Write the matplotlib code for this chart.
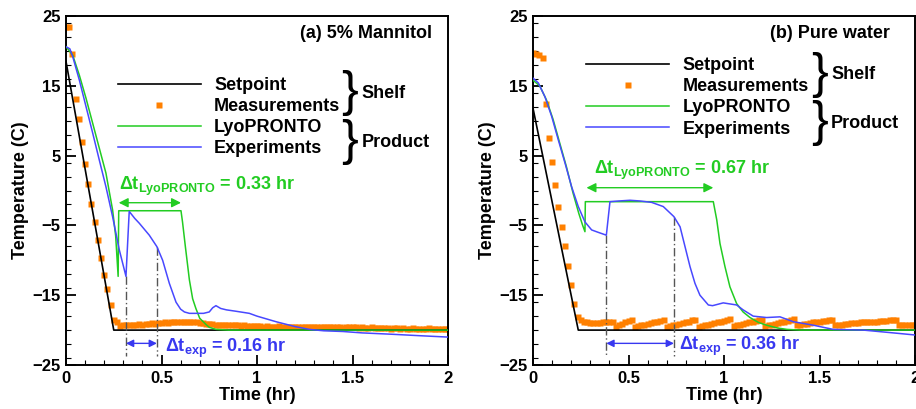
import matplotlib
matplotlib.use("Agg")
import matplotlib.pyplot as plt
from matplotlib.lines import Line2D
from matplotlib.ticker import MultipleLocator
import numpy as np

plt.rcParams['font.family'] = ['Liberation Sans', 'DejaVu Sans']
plt.rcParams['font.weight'] = 'bold'
plt.rcParams['mathtext.fontset'] = 'custom'
plt.rcParams['mathtext.rm'] = 'Liberation Sans:bold'
plt.rcParams['mathtext.it'] = 'Liberation Sans:bold'
plt.rcParams['mathtext.bf'] = 'Liberation Sans:bold'

ORANGE = '#ff8000'
GREEN = '#22cc22'
BLUE = '#4848ff'
TXT_BLUE = '#3838f0'

# shelf measurements are logged once a minute
meas_time = np.arange(121) / 60.0

# ---- (a) 5% Mannitol ----
a_set_t = [0.0, 0.25, 2.0]
a_set_T = [18.5, -20.0, -20.0]

a_meas = [23.4, 23.4, 19.5, 13.1, 10.3, 7.0, 3.8, 0.9, -1.9, -4.5, -7.1, -9.6, -12.1, -14.1, -16.4,
          -18.5, -18.8,
          -19.4, -19.3, -19.3, -19.2, -19.2, -19.2, -19.1, -19.2,
          -19.1, -19.1, -19.0, -19.1, -19.0, -19.0, -18.9, -19.0, -18.9, -18.9, -18.8, -18.9,
          -18.8, -18.8, -18.8, -18.9, -18.9, -19.0, -19.0, -19.1, -19.1,
          -19.1, -19.2, -19.2, -19.2, -19.3, -19.2, -19.3, -19.3, -19.3, -19.4, -19.3, -19.4, -19.4, -19.4, -19.4,
          -19.4, -19.5, -19.4, -19.5, -19.5, -19.5, -19.4, -19.5, -19.5, -19.5,
          -19.5, -19.6, -19.5, -19.5, -19.6, -19.5, -19.6, -19.6, -19.5, -19.6,
          -19.6, -19.6, -19.6, -19.5, -19.6, -19.6, -19.7, -19.6, -19.6, -19.6,
          -19.6, -19.7, -19.6, -19.7, -19.7, -19.6, -19.7, -19.7, -19.7, -19.7,
          -19.7, -19.8, -19.7, -19.7, -19.8, -19.7, -19.8, -19.8, -19.7, -19.8,
          -19.8, -19.8, -19.8, -19.7, -19.8, -19.8, -19.9, -19.8, -19.8, -19.8]

a_lyo_t = [0.0, 0.035, 0.07, 0.105, 0.14, 0.175, 0.209, 0.244, 0.26, 0.273, 0.276, 0.602, 0.61,
           0.625, 0.646, 0.663, 0.68, 0.7, 0.733, 0.75, 0.785, 0.85, 2.0]
a_lyo_T = [20.6, 19.4, 16.5, 13.2, 9.6, 6.0, 2.5, -2.8, -6.5, -12.3, -2.9, -2.9, -4.5,
           -8.05, -12.8, -15.5, -16.9, -18.3, -19.2, -19.6, -19.9, -20.0, -20.0]

a_exp_t = [0.0, 0.02, 0.035, 0.07, 0.105, 0.14, 0.174, 0.209, 0.244, 0.279, 0.314, 0.331, 0.36,
           0.384, 0.436, 0.476, 0.506, 0.541, 0.576, 0.6, 0.62, 0.646, 0.72, 0.75, 0.768, 0.785,
           0.81, 0.84, 0.89, 0.96, 1.0, 1.1, 1.2, 1.274, 1.35, 1.45, 1.55, 1.71, 1.85, 2.0]
a_exp_T = [20.6, 20.3, 19.2, 15.8, 12.0, 8.2, 4.4, 0.55, -3.75, -8.5, -12.3, -3.0, -4.0,
           -4.7, -6.4, -8.05, -10.0, -13.3, -16.0, -17.0, -17.4, -17.6, -17.6, -17.4, -16.8, -16.5,
           -16.9, -17.1, -17.3, -17.6, -18.0, -18.8, -19.5, -19.9, -20.1, -20.2, -20.4, -20.6, -20.8, -21.0]

a_exp_marks = [(0.314, -12.3), (0.476, -8.05)]
a_lyo_span = (0.276, 0.602)

# ---- (b) Pure water ----
b_set_t = [0.0, 0.237, 2.0]
b_set_T = [11.8, -20.0, -20.0]

b_meas = [19.7, 19.5, 19.4, 19.0, 12.4, 7.5, 4.1, 0.8, -2.4, -5.2, -8.0, -10.8, -13.5, -16.2, -18.1,
          -18.6,
          -18.8, -18.9, -19.0, -19.0, -19.0, -19.0, -18.9, -18.9, -18.9, -18.8,
          -19.5,
          -19.3, -19.1, -18.9, -18.7, -18.5,
          -19.5,
          -19.4, -19.3, -19.2, -19.1, -19.0, -18.9, -18.8, -18.7, -18.5,
          -19.5,
          -19.4, -19.3, -19.2, -19.1, -19.0, -18.9, -18.8, -18.6, -18.5,
          -19.5,
          -19.4, -19.3, -19.2, -19.1, -19.0, -18.9, -18.8, -18.7, -18.6, -18.4,
          -19.4,
          -19.3, -19.2, -19.1, -19.0, -18.9, -18.8, -18.7, -18.6, -18.5,
          -19.4,
          -19.3, -19.2, -19.1, -19.0, -18.9, -18.8, -18.7, -18.6, -18.4,
          -19.3,
          -19.2, -19.1, -19.1, -19.0, -18.9, -18.9, -18.8, -18.7, -18.7, -18.6, -18.5,
          -19.3,
          -19.2, -19.2, -19.1, -19.1, -19.0, -19.0, -19.0, -18.9, -18.9, -18.9,
          -18.8, -18.8, -18.8, -18.7, -18.7, -18.7, -18.6, -18.6, -18.5,
          -19.3,
          -19.3, -19.3, -19.2, -19.2, -19.2]

b_lyo_t = [0.0, 0.035, 0.07, 0.105, 0.14, 0.175, 0.21, 0.24, 0.26, 0.272, 0.274, 0.944, 0.962,
           0.979, 1.005, 1.031, 1.066, 1.1, 1.136, 1.18, 1.223, 1.28, 1.33, 1.4, 2.0]
b_lyo_T = [15.8, 15.0, 13.0, 10.2, 6.8, 3.4, -0.4, -3.3, -5.0, -5.9, -1.6, -1.6, -4.2,
           -7.6, -10.9, -13.8, -16.2, -17.4, -18.2, -18.9, -19.3, -19.7, -19.9, -20.0, -20.0]

b_exp_t = [0.0, 0.028, 0.063, 0.098, 0.133, 0.168, 0.202, 0.237, 0.272, 0.307, 0.342, 0.384,
           0.403, 0.45, 0.508, 0.56, 0.621, 0.682, 0.738, 0.77, 0.796, 0.822, 0.848, 0.874, 0.918,
           0.94, 0.996, 1.066, 1.1, 1.153, 1.223, 1.293, 1.363, 1.468, 1.572, 1.73, 1.886, 2.0]
b_exp_T = [16.1, 15.4, 13.4, 10.6, 7.2, 3.9, 0.55, -2.3, -4.5, -5.65, -6.0, -6.4,
           -1.6, -1.5, -1.4, -1.5, -1.7, -2.3, -3.75, -5.2, -8.05, -10.9, -13.3, -15.0, -16.4,
           -16.5, -16.1, -16.4, -17.1, -18.0, -18.2, -18.1, -18.8, -19.3, -19.9, -20.0, -20.4, -20.7]

b_exp_marks = [(0.384, -6.4), (0.738, -3.75)]
b_lyo_span = (0.28, 0.944)


def draw_panel(ax, set_t, set_T, meas, lyo_t, lyo_T, exp_t, exp_T, exp_marks, lyo_span,
               lyo_arrow_y, lyo_text, lyo_text_pos, exp_text, exp_text_pos, title, title_pos,
               leg_pos, shelf_pos, prod_pos):
    ax.plot(set_t, set_T, color='black', lw=1.2, zorder=3)
    ax.plot(meas_time, meas, ls='none', marker='s', ms=4.6, color=ORANGE, mec='none', zorder=2)
    ax.plot(lyo_t, lyo_T, color=GREEN, lw=1.1, zorder=4)
    ax.plot(exp_t, exp_T, color=BLUE, lw=1.1, zorder=5)

    # dash-dot markers for the experimental interval
    for t, T in exp_marks:
        ax.plot([t, t], [T, -23.7], color='#555555', lw=1.0, dashes=(6, 2, 1, 2), zorder=3)

    ax.annotate('', xy=(exp_marks[1][0], -21.9), xytext=(exp_marks[0][0], -21.9),
                arrowprops=dict(arrowstyle='<|-|>', color=TXT_BLUE, lw=1.0, mutation_scale=11,
                                shrinkA=0, shrinkB=0))
    ax.annotate('', xy=(lyo_span[1], lyo_arrow_y), xytext=(lyo_span[0], lyo_arrow_y),
                arrowprops=dict(arrowstyle='<|-|>', color=GREEN, lw=1.0, mutation_scale=14,
                                shrinkA=0, shrinkB=0))

    ax.text(lyo_text_pos[0], lyo_text_pos[1], lyo_text, color=GREEN, fontsize=13,
            fontweight='bold', va='baseline', ha='left')
    ax.text(exp_text_pos[0], exp_text_pos[1], exp_text, color=TXT_BLUE, fontsize=13,
            fontweight='bold', va='baseline', ha='left')
    ax.text(title_pos[0], title_pos[1], title, transform=ax.transAxes, fontsize=13,
            fontweight='bold', ha='right', va='center')

    handles = [Line2D([], [], color='black', lw=1.2),
               Line2D([], [], ls='none', marker='s', ms=4.6, color=ORANGE, mec='none'),
               Line2D([], [], color=GREEN, lw=1.1),
               Line2D([], [], color=BLUE, lw=1.1)]
    labels = ['Setpoint', 'Measurements', 'LyoPRONTO', 'Experiments']
    ax.legend(handles, labels, loc='center left', bbox_to_anchor=leg_pos, frameon=False,
              prop={'size': 13, 'weight': 'bold'}, handlelength=4.6, handletextpad=0.75,
              labelspacing=0.23, borderpad=0, borderaxespad=0, numpoints=1)

    for pos, word in [(shelf_pos, 'Shelf'), (prod_pos, 'Product')]:
        ax.text(pos[0], pos[1], '}', transform=ax.transAxes, fontsize=36, fontweight='normal',
                ha='center', va='center')
        ax.text(pos[0] + 0.03, pos[1], word, transform=ax.transAxes, fontsize=13,
                fontweight='bold', ha='left', va='center')

    ax.set_xlim(0, 2)
    ax.set_ylim(-25, 25)
    ax.xaxis.set_minor_locator(MultipleLocator(0.1))
    ax.yaxis.set_minor_locator(MultipleLocator(2))
    ax.set_xticks([0, 0.5, 1, 1.5, 2])
    ax.set_xticklabels(['0', '0.5', '1', '1.5', '2'])
    ax.set_yticks([-25, -15, -5, 5, 15, 25])
    ax.tick_params(which='major', direction='in', length=7, width=1.3, labelsize=12, pad=4)
    ax.tick_params(which='minor', direction='in', length=3.5, width=0.8)
    for s in ax.spines.values():
        s.set_linewidth(1.4)
    ax.set_xlabel('Time (hr)', fontsize=13, fontweight='bold', labelpad=1)
    ax.set_ylabel('Temperature (C)', fontsize=13, fontweight='bold', labelpad=2)


fig = plt.figure(figsize=(9.16, 4.09), dpi=100)
ax1 = fig.add_axes([66 / 916, 44 / 409, 382 / 916, 349 / 409])
ax2 = fig.add_axes([533 / 916, 44 / 409, 382 / 916, 349 / 409])

draw_panel(ax1, a_set_t, a_set_T, a_meas, a_lyo_t, a_lyo_T, a_exp_t, a_exp_T, a_exp_marks,
           a_lyo_span, -1.75, r'$\Delta$t$_{\rm LyoPRONTO}$ = 0.33 hr', (0.276, 0.1),
           r'$\Delta$t$_{\rm exp}$ = 0.16 hr', (0.518, -23.1), '(a) 5% Mannitol', (0.957, 0.95),
           (0.135, 0.71), (0.743, 0.778), (0.743, 0.638))

draw_panel(ax2, b_set_t, b_set_T, b_meas, b_lyo_t, b_lyo_T, b_exp_t, b_exp_T, b_exp_marks,
           b_lyo_span, 0.4, r'$\Delta$t$_{\rm LyoPRONTO}$ = 0.67 hr', (0.321, 2.3),
           r'$\Delta$t$_{\rm exp}$ = 0.36 hr', (0.763, -22.85), '(b) Pure water', (0.933, 0.95),
           (0.139, 0.767), (0.75, 0.831), (0.75, 0.692))

fig.savefig('out.png', dpi=100)
